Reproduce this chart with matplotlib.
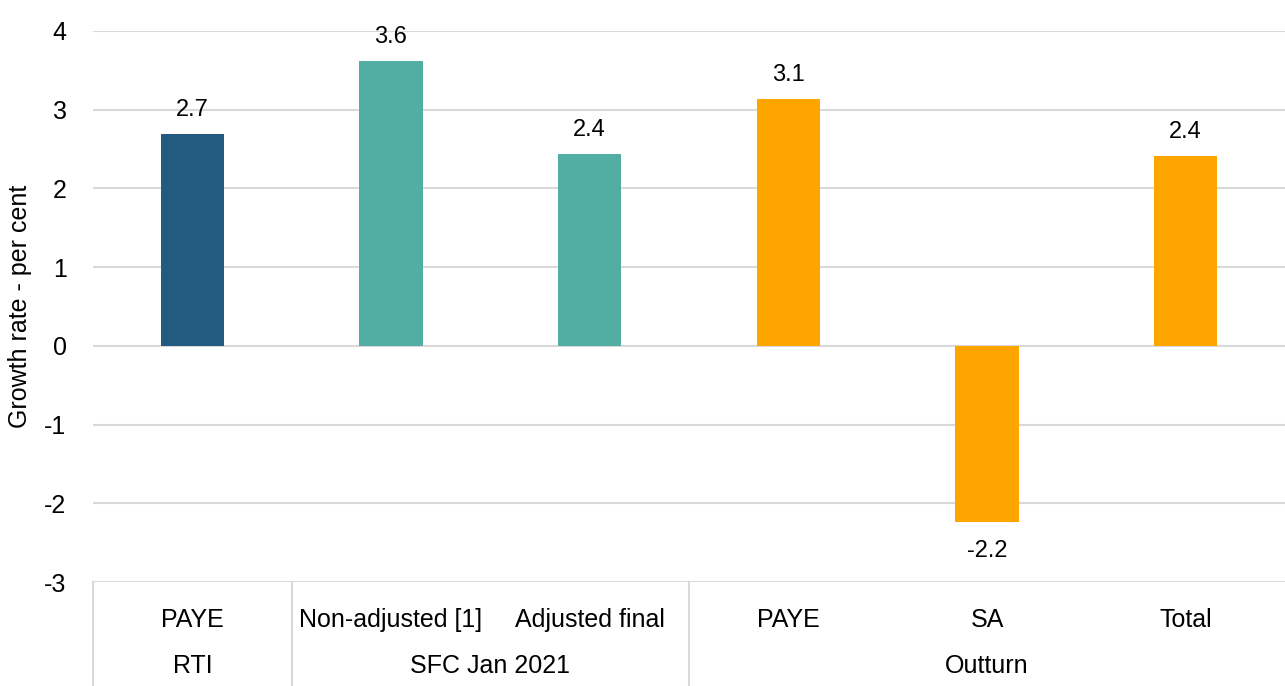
import numpy as np
import matplotlib.pyplot as plt
import matplotlib.transforms as mtransforms

plt.rcParams['font.family'] = ['Liberation Sans', 'DejaVu Sans']
plt.rcParams['axes.unicode_minus'] = False

## Données
categories = ["PAYE", "Non-adjusted [1]", "Adjusted final", "PAYE", "SA", "Total"]
valeurs = [2.69, 3.62, 2.44, 3.13, -2.24, 2.41]
etiquettes = ["2.7", "3.6", "2.4", "3.1", "-2.2", "2.4"]
groupes = ["RTI", "SFC Jan 2021", "Outturn"]
taille_groupes = [1, 2, 3]
couleurs_groupes = ["#235B80", "#52ADA2", "#FFA500"]

taille_police = 18

## Figure
fig = plt.figure(figsize=(12.85, 6.86), dpi=100)
ax = fig.add_axes([93/1285, 104/686, 1 - 93/1285, 551/686])

couleurs = []
for c, n in zip(couleurs_groupes, taille_groupes):
    couleurs += [c]*n

x = np.arange(len(categories))
ax.bar(x, valeurs, width=0.32, color=couleurs, zorder=3)

# étiquettes des valeurs
for xi, v, lab in zip(x, valeurs, etiquettes):
    if v >= 0:
        ax.annotate(lab, (xi, v), xytext=(0, 24), textcoords="offset pixels",
                    ha="center", va="center", fontsize=17)
    else:
        ax.annotate(lab, (xi, v), xytext=(0, -29), textcoords="offset pixels",
                    ha="center", va="center", fontsize=17)

ax.set_xlim(-0.5, len(categories) - 0.5)
ax.set_ylim(-3, 4)
ax.set_yticks(range(-3, 5))
ax.tick_params(axis="y", length=0, pad=19, labelsize=taille_police)
ax.yaxis.grid(True, color="#D9D9D9", linewidth=1.5, zorder=0)
for s in ["left", "right", "top", "bottom"]:
    ax.spines[s].set_visible(False)
ax.set_ylabel("Growth rate - per cent", fontsize=taille_police, va="center")
ax.yaxis.set_label_coords(-73/1192, 0.5)

# axe des catégories à deux niveaux
ax.set_xticks(x)
ax.set_xticklabels(categories, fontsize=taille_police)
ax.tick_params(axis="x", length=0, pad=19)

trans = mtransforms.blended_transform_factory(ax.transData, ax.transAxes)
bas = -104/551
debut = -0.5
for g, n in zip(groupes, taille_groupes):
    ax.text(debut + n/2, -0.152, g, transform=trans, ha="center", va="center",
            fontsize=taille_police)
    ax.plot([debut, debut], [0, bas], transform=trans, color="#D9D9D9",
            linewidth=1.5, clip_on=False)
    debut += n

fig.savefig("out.png", dpi=100)
